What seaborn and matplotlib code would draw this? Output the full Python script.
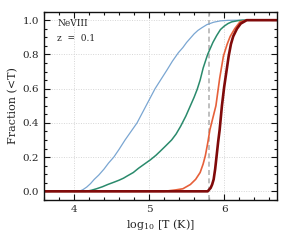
import numpy as np
import pandas as pd
import seaborn as sns
import matplotlib.pyplot as plt
from matplotlib.ticker import MultipleLocator

# valori: log10 T e frazione cumulativa (<T)
blue_x = [3.6, 4.07, 4.12, 4.17, 4.22, 4.27, 4.33, 4.4, 4.46, 4.53, 4.6, 4.68, 4.76, 4.84, 4.9, 4.96,
          5.02, 5.08, 5.16, 5.24, 5.31, 5.39, 5.45, 5.5, 5.55, 5.6, 5.65, 5.7, 5.77, 5.86, 5.95, 6.05, 6.2, 6.7]
blue_y = [0.0, 0.0, 0.01, 0.025, 0.045, 0.07, 0.095, 0.13, 0.165, 0.2, 0.245, 0.3, 0.35, 0.4, 0.45, 0.5,
          0.55, 0.6, 0.655, 0.71, 0.76, 0.81, 0.84, 0.87, 0.895, 0.92, 0.94, 0.955, 0.974, 0.988, 0.996, 0.999, 1.0, 1.0]

green_x = [3.6, 4.16, 4.23, 4.3, 4.38, 4.45, 4.53, 4.6, 4.66, 4.71, 4.79, 4.86, 4.94, 5.02, 5.09, 5.15, 5.22,
           5.3, 5.36, 5.42, 5.49, 5.55, 5.6, 5.64, 5.68, 5.72, 5.75, 5.78, 5.81, 5.85, 5.9, 5.95, 6.0, 6.05,
           6.1, 6.18, 6.25, 6.7]
green_y = [0.0, 0.0, 0.006, 0.015, 0.027, 0.04, 0.053, 0.065, 0.077, 0.09, 0.11, 0.135, 0.16, 0.185, 0.21, 0.235,
           0.265, 0.3, 0.335, 0.38, 0.44, 0.5, 0.55, 0.595, 0.65, 0.72, 0.76, 0.8, 0.83, 0.87, 0.91, 0.945, 0.965,
           0.98, 0.99, 0.997, 1.0, 1.0]

orange_x = [3.6, 5.2, 5.35, 5.45, 5.55, 5.62, 5.68, 5.72, 5.75, 5.78, 5.81, 5.85, 5.89, 5.94, 5.99, 6.04,
            6.08, 6.14, 6.21, 6.3, 6.7]
orange_y = [0.0, 0.0, 0.008, 0.015, 0.04, 0.07, 0.11, 0.16, 0.21, 0.28, 0.36, 0.43, 0.5, 0.66, 0.79, 0.86,
            0.905, 0.95, 0.99, 1.0, 1.0]

dred_x = [3.6, 5.78, 5.82, 5.84, 5.86, 5.88, 5.9, 5.92, 5.94, 5.97, 6.0, 6.03, 6.06, 6.09, 6.12, 6.17,
          6.22, 6.3, 6.7]
dred_y = [0.0, 0.0, 0.02, 0.04, 0.07, 0.13, 0.21, 0.29, 0.36, 0.5, 0.61, 0.7, 0.79, 0.86, 0.905, 0.95,
          0.98, 1.0, 1.0]

sns.set_style("ticks")
plt.rcParams['font.family'] = ['DejaVu Serif']
plt.rcParams['mathtext.fontset'] = 'dejavuserif'

fig = plt.figure(figsize=(2.91, 2.42), dpi=100)
ax = fig.add_axes([0.151, 0.174, 0.80, 0.778])

ax.grid(True, which='major', linestyle=(0, (1, 1.5)), color='#d6d6d6', linewidth=0.7)
ax.axvline(5.8, color='#b4b4b4', linestyle='--', linewidth=1.2, dashes=(3, 2))

sns.lineplot(x=blue_x, y=blue_y, color='#7aa6d2', linewidth=0.9, ax=ax)
sns.lineplot(x=green_x, y=green_y, color='#2a8a6c', linewidth=1.1, ax=ax)
sns.lineplot(x=orange_x, y=orange_y, color='#e6603a', linewidth=1.2, ax=ax)
sns.lineplot(x=dred_x, y=dred_y, color='#800a0a', linewidth=1.9, ax=ax)

ax.set_xlim(3.6, 6.7)
ax.set_ylim(-0.05, 1.05)
ax.xaxis.set_major_locator(MultipleLocator(1))
ax.xaxis.set_minor_locator(MultipleLocator(0.2))
ax.yaxis.set_minor_locator(MultipleLocator(0.05))
ax.set_yticks([0.0, 0.2, 0.4, 0.6, 0.8, 1.0])
ax.set_yticklabels(['0.0', '0.2', '0.4', '0.6', '0.8', '1.0'])
ax.tick_params(which='both', direction='in', top=True, right=True, labelsize=7.5, width=0.8, color='#111111')
ax.tick_params(which='major', length=4)
ax.tick_params(which='minor', length=2)
for s in ax.spines.values():
    s.set_linewidth(1.0)
    s.set_color('#111111')

ax.set_xlabel('log$_{10}$ [T (K)]', fontsize=8, labelpad=2)
ax.set_ylabel('Fraction (<T)', fontsize=8, labelpad=3)

ax.text(0.057, 0.935, 'NeVIII', transform=ax.transAxes, fontsize=6.5, va='center', ha='left')
ax.text(0.057, 0.855, 'z  =  0.1', transform=ax.transAxes, fontsize=6.5, va='center', ha='left')

fig.savefig('out.png', dpi=100)
